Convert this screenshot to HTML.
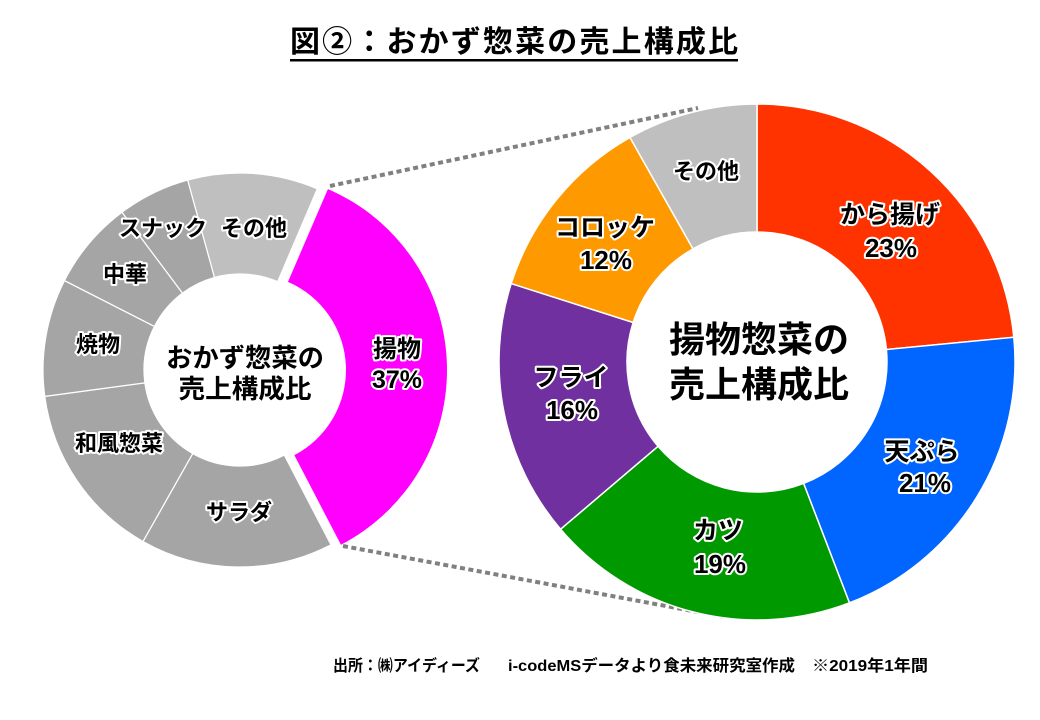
<!DOCTYPE html>
<html>
<head>
<meta charset="utf-8">
<style>
  html,body{margin:0;padding:0;background:#fff;}
  svg{display:block;}
  text{font-family:"Liberation Sans","Noto Sans CJK JP",sans-serif;font-weight:bold;}
  .g{fill:#000;stroke:#fff;stroke-width:4;stroke-linejoin:round;paint-order:stroke;}
</style>
</head>
<body>
<svg width="1040" height="720" viewBox="0 0 1040 720" xmlns="http://www.w3.org/2000/svg">
  <rect width="1040" height="720" fill="#fff"/>

  <!-- Title -->
  <text x="290" y="52" font-size="30" textLength="448" lengthAdjust="spacing">図②：おかず惣菜の売上構成比</text>
  <rect x="290" y="59" width="448" height="2.5" fill="#000"/>

  <!-- Dotted connector lines -->
  <line x1="330" y1="186" x2="698" y2="108" stroke="#808080" stroke-width="4" stroke-dasharray="5 3.5"/>
  <line x1="343" y1="546" x2="725" y2="617" stroke="#808080" stroke-width="4" stroke-dasharray="5 3.5"/>

  <!-- Left donut -->
  <g stroke="#fff" stroke-width="1.2">
    <path d="M330.96,544.74 A197,197 0 0 1 142.99,541.46 L192.73,453.55 A96,96 0 0 0 284.33,455.15 Z" fill="#a5a5a5"/>
    <path d="M142.99,541.46 A197,197 0 0 1 44.78,396.40 L144.87,382.86 A96,96 0 0 0 192.73,453.55 Z" fill="#a5a5a5"/>
    <path d="M44.78,396.40 A197,197 0 0 1 64.47,280.56 L154.46,326.42 A96,96 0 0 0 144.87,382.86 Z" fill="#a5a5a5"/>
    <path d="M64.47,280.56 A197,197 0 0 1 121.99,212.26 L182.49,293.13 A96,96 0 0 0 154.46,326.42 Z" fill="#a5a5a5"/>
    <path d="M121.99,212.26 A197,197 0 0 1 187.68,180.07 L214.51,277.45 A96,96 0 0 0 182.49,293.13 Z" fill="#a5a5a5"/>
    <path d="M187.68,180.07 A197,197 0 0 1 317.29,188.80 L277.66,281.70 A96,96 0 0 0 214.51,277.45 Z" fill="#bfbfbf"/>
  </g>
  <path d="M327.92,189.07 A197,197 0 0 1 340.96,544.74 L294.33,455.15 A96,96 0 0 0 287.97,281.83 Z" fill="#ff00ff"/>

  <!-- Left labels -->
  <g font-size="22" text-anchor="middle" class="g">
    <text x="254" y="236">その他</text>
    <text x="163" y="236">スナック</text>
    <text x="125" y="282">中華</text>
    <text x="98" y="352">焼物</text>
    <text x="119" y="451">和風惣菜</text>
    <text x="239" y="520">サラダ</text>
  </g>
  <text x="397" y="357" font-size="24" text-anchor="middle" class="g">揚物</text>
  <text x="397" y="388" font-size="25" text-anchor="middle" class="g">37%</text>
  <text x="245" y="367" font-size="26" text-anchor="middle" textLength="158" lengthAdjust="spacingAndGlyphs">おかず惣菜の</text>
  <text x="245" y="398" font-size="26" text-anchor="middle" textLength="133" lengthAdjust="spacingAndGlyphs">売上構成比</text>

  <!-- Right donut -->
  <g stroke="#fff" stroke-width="1.5">
    <path d="M757,104 A258,258 0 0 1 1013.81,337.27 L886.40,349.54 A130,130 0 0 0 757,232 Z" fill="#ff3300"/>
    <path d="M1013.81,337.27 A258,258 0 0 1 849.46,602.86 L803.59,483.37 A130,130 0 0 0 886.40,349.54 Z" fill="#0066ff"/>
    <path d="M849.46,602.86 A258,258 0 0 1 560.57,529.21 L658.02,446.26 A130,130 0 0 0 803.59,483.37 Z" fill="#009900"/>
    <path d="M560.57,529.21 A258,258 0 0 1 511.21,283.56 L633.15,322.48 A130,130 0 0 0 658.02,446.26 Z" fill="#7030a0"/>
    <path d="M511.21,283.56 A258,258 0 0 1 629.96,137.45 L692.99,248.85 A130,130 0 0 0 633.15,322.48 Z" fill="#ff9900"/>
    <path d="M629.96,137.45 A258,258 0 0 1 757,104 L757,232 A130,130 0 0 0 692.99,248.85 Z" fill="#bfbfbf"/>
  </g>

  <!-- Right labels -->
  <g text-anchor="middle" class="g">
    <text x="706" y="179" font-size="22">その他</text>
    <text x="890" y="223" font-size="25">から揚げ</text>
    <text x="891" y="257" font-size="26">23%</text>
    <text x="922" y="460" font-size="25">天ぷら</text>
    <text x="925" y="492" font-size="26">21%</text>
    <text x="718" y="539" font-size="25">カツ</text>
    <text x="720" y="573" font-size="26">19%</text>
    <text x="571" y="386" font-size="25">フライ</text>
    <text x="572" y="419" font-size="26">16%</text>
    <text x="605" y="236" font-size="25">コロッケ</text>
    <text x="606" y="269" font-size="26">12%</text>
  </g>
  <text x="759" y="352" font-size="36" text-anchor="middle" textLength="180" lengthAdjust="spacingAndGlyphs">揚物惣菜の</text>
  <text x="759" y="397" font-size="36" text-anchor="middle" textLength="180" lengthAdjust="spacingAndGlyphs">売上構成比</text>

  <!-- Footer -->
  <g font-size="16">
    <text x="333" y="671" textLength="147" lengthAdjust="spacingAndGlyphs">出所：㈱アイディーズ</text>
    <text x="508" y="671" textLength="287" lengthAdjust="spacingAndGlyphs">i-codeMSデータより食未来研究室作成</text>
    <text x="812" y="671" textLength="116" lengthAdjust="spacingAndGlyphs">※2019年1年間</text>
  </g>
</svg>
</body>
</html>
